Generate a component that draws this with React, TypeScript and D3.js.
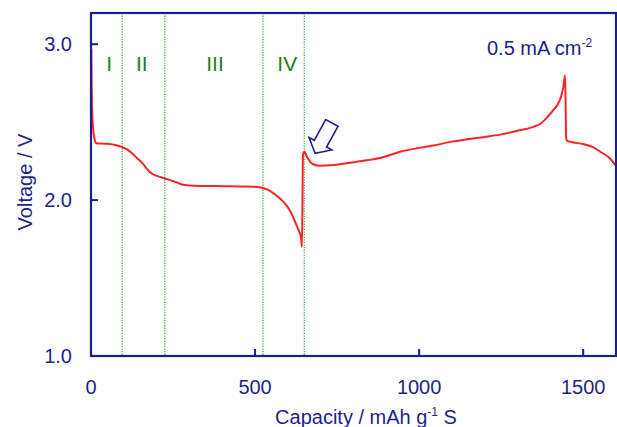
import React from 'react';
import * as d3 from 'd3';

// capacity (mAh g-1 S) and voltage (V)
const capacity = [1, 2, 3, 6, 11, 16, 40, 58, 76, 95, 110, 125, 140, 155, 165, 180, 201, 223, 253, 277, 300, 332, 380, 424, 470, 500, 524, 540, 552, 565, 576, 590, 601, 612, 622, 632, 640, 643, 646, 650, 658, 668, 677, 698, 740, 790, 840, 881, 942, 1000, 1043, 1100, 1146, 1200, 1247, 1300, 1348, 1370, 1390, 1410, 1421, 1432, 1439, 1445, 1448, 1451, 1470, 1500, 1530, 1552, 1580, 1600];
const voltage = [2.97, 2.75, 2.59, 2.47, 2.39, 2.365, 2.362, 2.36, 2.352, 2.34, 2.325, 2.3, 2.27, 2.24, 2.215, 2.178, 2.155, 2.14, 2.12, 2.1, 2.093, 2.09, 2.09, 2.088, 2.087, 2.085, 2.077, 2.065, 2.05, 2.03, 2.01, 1.98, 1.95, 1.91, 1.86, 1.81, 1.76, 1.7, 2.29, 2.31, 2.28, 2.245, 2.23, 2.22, 2.225, 2.24, 2.255, 2.27, 2.31, 2.335, 2.35, 2.375, 2.39, 2.405, 2.42, 2.445, 2.47, 2.49, 2.53, 2.58, 2.61, 2.66, 2.72, 2.8, 2.4, 2.38, 2.37, 2.36, 2.34, 2.31, 2.27, 2.22];

const stageBounds = [95, 225, 524, 650];
const stageLabels = ['I', 'II', 'III', 'IV'];
const stageLabelX = [55, 155, 378, 598];

const xTicks = [0, 500, 1000, 1500];
const yTicks = [1, 2, 3];

const navy = '#1f1f8c';
const font = '"Liberation Sans", Arial, sans-serif';

export default function App() {
  const width = 617;
  const height = 427;
  const margin = { top: 13, right: 1, bottom: 71, left: 91 };

  const x = d3.scaleLinear().domain([0, 1600]).range([margin.left, width - margin.right]);
  const y = d3.scaleLinear().domain([1, 3.2]).range([height - margin.bottom, margin.top]);

  const data = capacity.map((c, i) => [c, voltage[i]] as [number, number]);
  const line = d3
    .line<[number, number]>()
    .x((d) => x(d[0]))
    .y((d) => y(d[1]))
    .curve(d3.curveMonotoneX);

  // hollow arrow pointing at the start of the charge
  const tail = [x(734), y(2.495)];
  const tip = [x(683), y(2.3)];
  const len = Math.hypot(tip[0] - tail[0], tip[1] - tail[1]);
  const ang = (Math.atan2(tip[1] - tail[1], tip[0] - tail[0]) * 180) / Math.PI;
  const headLen = 11;
  const sh = 7;
  const hh = 13;
  const arrowPts = [
    [0, -sh], [len - headLen, -sh], [len - headLen, -hh], [len, 0],
    [len - headLen, hh], [len - headLen, sh], [0, sh],
  ].map((p) => p.join(',')).join(' ');

  const x0 = x(0), x1 = x(1600), y0 = y(1), y1 = y(3.2);

  return (
    <div style={{ position: 'fixed', left: 0, top: 0 }}>
      <svg width={width} height={height} style={{ display: 'block', background: '#fff' }}>
        {stageBounds.map((b) => (
          <line key={b} x1={x(b)} x2={x(b)} y1={y1} y2={y0}
            stroke="#4caf50" strokeWidth={1.3} strokeDasharray="1.3,1.3" />
        ))}
        {stageLabels.map((s, i) => (
          <text key={s} x={x(stageLabelX[i])} y={y(2.83)} textAnchor="middle"
            fontFamily={font} fontSize={21} fill="#1e7d1e">{s}</text>
        ))}

        <path d={line(data) || ''} fill="none" stroke="#ff2222" strokeWidth={2} />

        <polygon points={arrowPts} transform={`translate(${tail[0]},${tail[1]}) rotate(${ang})`}
          fill="#fff" stroke={navy} strokeWidth={1.6} strokeLinejoin="miter" />

        {/* frame */}
        <rect x={x0} y={y1} width={x1 - x0} height={y0 - y1} fill="none" stroke={navy} strokeWidth={2.2} />

        {xTicks.slice(1).map((t) => (
          <line key={t} x1={x(t)} x2={x(t)} y1={y0} y2={y0 - 7} stroke={navy} strokeWidth={2} />
        ))}
        {yTicks.slice(1).map((t) => (
          <line key={t} x1={x0} x2={x0 + 7} y1={y(t)} y2={y(t)} stroke={navy} strokeWidth={2} />
        ))}

        {xTicks.map((t) => (
          <text key={t} x={x(t)} y={y0 + 38} textAnchor="middle" fontFamily={font} fontSize={20} fill={navy}>{t}</text>
        ))}
        {yTicks.map((t) => (
          <text key={t} x={x0 - 19} y={y(t)} dy="0.36em" textAnchor="end" fontFamily={font} fontSize={20} fill={navy}>{t.toFixed(1)}</text>
        ))}

        <text x={366} y={424} textAnchor="middle" fontFamily={font} fontSize={20} fill={navy}>
          Capacity / mAh g<tspan fontSize={12} dy={-8}>-1</tspan><tspan dy={8}> S</tspan>
        </text>
        <text transform={`translate(32,182) rotate(-90)`} textAnchor="middle" fontFamily={font} fontSize={20} fill={navy}>
          Voltage / V
        </text>
        <text x={487} y={55} fontFamily={font} fontSize={20} fill={navy}>
          0.5 mA cm<tspan fontSize={12} dy={-8}>-2</tspan>
        </text>
      </svg>
    </div>
  );
}
